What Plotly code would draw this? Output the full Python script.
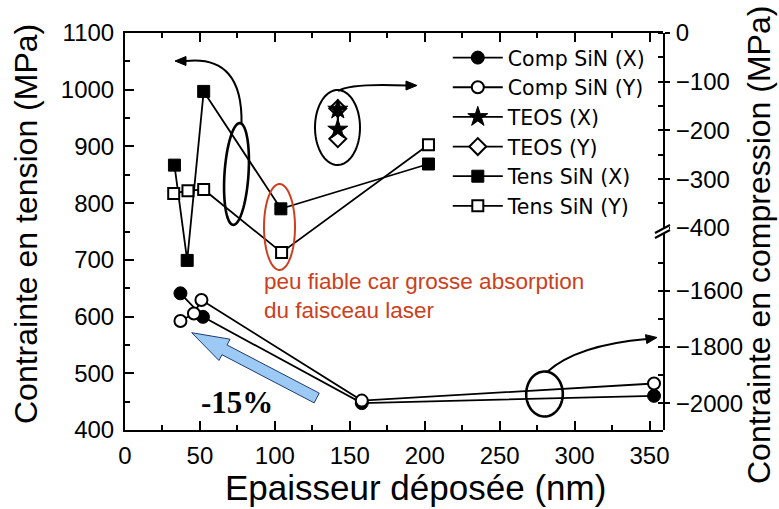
import numpy as np
import plotly.graph_objects as go

# data: thickness (nm) and stress (MPa)
tens_x_nm = [33, 41.5, 52.5, 104, 202.5]
tens_x_mpa = [867, 699, 997, 790, 869]
tens_y_nm = [32.5, 42, 52.5, 104.5, 202.5]
tens_y_mpa = [817, 822, 824, 713, 903]

teos_nm = [142, 142]
teos_x_mpa = [-157, -198]
teos_y_mpa = [-155, -217]

comp_x_nm = [37, 52, 158, 353]
comp_x_mpa = [-1608, -1692, -2000, -1974]
comp_y_nm = [37, 46, 51, 158, 353]
comp_y_mpa = [-1707, -1680, -1632, -1991, -1930]

x_ticks = [0, 50, 100, 150, 200, 250, 300, 350]
left_ticks = [400, 500, 600, 700, 800, 900, 1000, 1100]
right_top_ticks = [0, -100, -200, -300, -400]
right_bot_ticks = [-1600, -1800, -2000]

FONT = "Liberation Sans, Arial, sans-serif"
RED = "#cc4020"

# page geometry (px) used only to place the hand-drawn decorations
W, H = 779, 509
L, R, T, B = 125, 116, 33, 79
PW, PH = W - L - R, H - T - B
BREAK_PY = 230
split = (H - B - BREAK_PY) / PH


def pp(px, py):
    return (px - L) / PW, (H - B - py) / PH


def path_of(points, close=False):
    pts = [pp(x, y) for x, y in points]
    s = "M " + " L ".join(f"{x:.5f},{y:.5f}" for x, y in pts)
    return s + (" Z" if close else "")


def ellipse(cx, cy, rx, ry, tilt=0.0):
    t = np.linspace(0, 2 * np.pi, 90)
    a = np.radians(tilt)
    xs = cx + rx * np.cos(t) * np.cos(a) - ry * np.sin(t) * np.sin(a)
    ys = cy + rx * np.cos(t) * np.sin(a) + ry * np.sin(t) * np.cos(a)
    return path_of(list(zip(xs, ys)), close=True)


def curve(p0, c, p1):
    (x0, y0), (cx, cy), (x1, y1) = pp(*p0), pp(*c), pp(*p1)
    return f"M {x0:.5f},{y0:.5f} Q {cx:.5f},{cy:.5f} {x1:.5f},{y1:.5f}"


def head(tip, back, length=11, half=4.5):
    tip = np.array(tip, float)
    d = tip - np.array(back, float)
    d /= np.linalg.norm(d)
    n = np.array([-d[1], d[0]])
    b = tip - length * d
    return path_of([tip, b + half * n, b - half * n], close=True)


def block_arrow(tip, tail, head_len=37, head_half=12, shaft_half=5.5):
    tip = np.array(tip, float)
    u = np.array(tail, float) - tip
    total = np.linalg.norm(u)
    u /= total
    n = np.array([-u[1], u[0]])
    pts = [tip,
           tip + head_len * u - head_half * n,
           tip + head_len * u - shaft_half * n,
           tip + total * u - shaft_half * n,
           tip + total * u + shaft_half * n,
           tip + head_len * u + shaft_half * n,
           tip + head_len * u + head_half * n]
    return path_of(pts, close=True)


fig = go.Figure()

line_style = dict(color="black", width=1.8)
open_marker = dict(color="white", line=dict(color="black", width=2))
full_marker = dict(color="black", line=dict(color="black", width=1))

fig.add_trace(go.Scatter(x=comp_x_nm, y=comp_x_mpa, yaxis="y3", name="Comp SiN (X)",
                         mode="lines+markers", line=line_style, legendrank=1,
                         marker=dict(symbol="circle", size=13, **full_marker)))
fig.add_trace(go.Scatter(x=comp_y_nm, y=comp_y_mpa, yaxis="y3", name="Comp SiN (Y)",
                         mode="lines+markers", line=line_style, legendrank=2,
                         marker=dict(symbol="circle", size=12, **open_marker)))
fig.add_trace(go.Scatter(x=teos_nm, y=teos_y_mpa, yaxis="y2", name="TEOS (Y)",
                         mode="lines+markers", line=line_style, legendrank=4,
                         marker=dict(symbol="diamond", size=13, **open_marker)))
fig.add_trace(go.Scatter(x=teos_nm, y=teos_x_mpa, yaxis="y2", name="TEOS (X)",
                         mode="lines+markers", line=line_style, legendrank=3,
                         marker=dict(symbol="star", size=15, **full_marker)))
fig.add_trace(go.Scatter(x=tens_x_nm, y=tens_x_mpa, name="Tens SiN (X)",
                         mode="lines+markers", line=line_style, legendrank=5,
                         marker=dict(symbol="square", size=12, **full_marker)))
fig.add_trace(go.Scatter(x=tens_y_nm, y=tens_y_mpa, name="Tens SiN (Y)",
                         mode="lines+markers", line=line_style, legendrank=6,
                         marker=dict(symbol="square", size=11, **open_marker)))

axis_common = dict(showline=True, linewidth=2, linecolor="black", showgrid=False,
                   zeroline=False, tickwidth=2, tickcolor="black", automargin=False)

fig.update_layout(
    width=W, height=H,
    margin=dict(l=L, r=R, t=T, b=B),
    plot_bgcolor="rgba(0,0,0,0)", paper_bgcolor="white",
    font=dict(family=FONT, size=24, color="black"),
    legend=dict(x=0.600, y=0.988, xanchor="left", yanchor="top",
                font=dict(size=20.5, family="DejaVu Sans, Liberation Sans, sans-serif"),
                bgcolor="rgba(0,0,0,0)", itemwidth=50, tracegroupgap=0),
    xaxis=dict(range=[0, 359], tickvals=x_ticks, ticks="inside", ticklen=9,
               mirror="ticks", ticklabelstandoff=3,
               minor=dict(dtick=25, tick0=0, ticks="inside", ticklen=5,
                          tickwidth=2, tickcolor="black"),
               **axis_common),
    yaxis=dict(range=[400, 1100], tickvals=left_ticks, ticks="inside", ticklen=9,
               ticklabelstandoff=4,
               minor=dict(dtick=50, tick0=400, ticks="inside", ticklen=5,
                          tickwidth=2, tickcolor="black"),
               **axis_common),
    yaxis2=dict(domain=[split, 1], anchor="x", side="right", range=[-404.5, 0],
                tickvals=right_top_ticks, ticks="outside", ticklen=5,
                ticklabelstandoff=1,
                minor=dict(tickmode="array", tickvals=[0, -50, -100, -150, -200, -250, -300, -350],
                           ticks="inside", ticklen=5, tickwidth=2, tickcolor="black"),
                **axis_common),
    yaxis3=dict(domain=[0, split], anchor="x", side="right", range=[-2096, -1382],
                tickvals=right_bot_ticks, ticks="outside", ticklen=5,
                ticklabelstandoff=1,
                minor=dict(tickmode="array", tickvals=[-1500, -1600, -1700, -1800, -1900, -2000],
                           ticks="inside", ticklen=5, tickwidth=2, tickcolor="black"),
                **axis_common),
)

shapes = []
# ellipses
shapes.append(dict(type="path", path=ellipse(236.5, 174, 12, 51, 3.8),
                   line=dict(color="black", width=2.6)))
shapes.append(dict(type="path", path=ellipse(337.5, 127.5, 22.5, 37.5),
                   line=dict(color="black", width=2)))
shapes.append(dict(type="path", path=ellipse(279.5, 227, 15.5, 43),
                   line=dict(color=RED, width=2)))
shapes.append(dict(type="path", path=ellipse(544.5, 394, 18.3, 22.5),
                   line=dict(color="black", width=2.6)))
# curved arrows
for p0, c, p1, tip in [((241.5, 124), (243, 55), (186, 61), (175, 61)),
                       ((338, 91), (350, 83), (407, 85.5), (417, 85.5)),
                       ((547, 372), (577, 345), (647, 339), (657, 337.5))]:
    shapes.append(dict(type="path", path=curve(p0, c, p1),
                       line=dict(color="black", width=2)))
    shapes.append(dict(type="path", path=head(tip, p1), fillcolor="black",
                       line=dict(color="black", width=1)))
# big blue arrow
shapes.append(dict(type="path", path=block_arrow((191.7, 332.7), (316.7, 398)),
                   fillcolor="#9dc9f5", line=dict(color="#1d3b70", width=1)))
# axis break marks
shapes.append(dict(type="path", path=path_of([(656, 233), (669, 226), (669, 231), (656, 238)], True),
                   fillcolor="white", line=dict(width=0)))
for dy in (0, 5):
    shapes.append(dict(type="path", path=path_of([(655, 233 + dy), (670, 225 + dy)]),
                       line=dict(color="black", width=2)))
for s in shapes:
    s.update(xref="paper", yref="paper", layer="above")
fig.update_layout(shapes=shapes)

annotations = [
    dict(text="Epaisseur déposée (nm)", x=pp(415, 0)[0], y=pp(0, 488)[1],
         font=dict(size=35)),
    dict(text="Contrainte en tension (MPa)", x=pp(26, 0)[0], y=pp(0, 224)[1],
         textangle=-90, font=dict(size=32)),
    dict(text="Contrainte en compression (MPa)", x=pp(759, 0)[0], y=pp(0, 245)[1],
         textangle=-90, font=dict(size=32)),
    dict(text="peu fiable car grosse absorption<br>du faisceau laser", align="left",
         x=pp(262, 0)[0], y=pp(0, 296)[1], xanchor="left",
         font=dict(size=22.5, color=RED)),
    dict(text="<b>-15%</b>", x=pp(237, 0)[0], y=pp(0, 402)[1],
         font=dict(size=31, family="Liberation Serif, Times New Roman, serif")),
]
for a in annotations:
    a.setdefault("xanchor", "center")
    a.update(xref="paper", yref="paper", yanchor="middle", showarrow=False)
fig.update_layout(annotations=annotations)

# the page body has a default 8px margin; drop it so the figure sits at the corner
fig.write_html("out.html", config={"displayModeBar": False},
               post_script="document.body.style.margin='0';")
